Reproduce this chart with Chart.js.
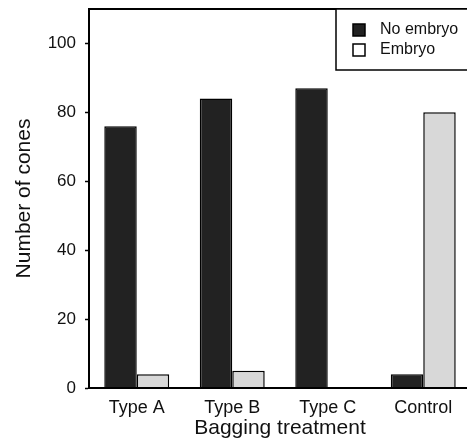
<!DOCTYPE html>
<html>
<head>
<meta charset="utf-8">
<script src="https://cdn.jsdelivr.net/npm/chart.js@4/dist/chart.umd.min.js"></script>
<style>
  html, body { margin: 0; padding: 0; background: #fff; overflow: hidden; }
  #caja { width: 480px; height: 448px; }
</style>
</head>
<body>
<div id="caja"><canvas id="grafico" width="480" height="448"></canvas></div>
<script>
const tratamientos = ["Type A", "Type B", "Type C", "Control"];
const sinEmbrion = [76, 84, 87, 4];
const conEmbrion = [4, 5, 0, 80];
const marcasY = [0, 20, 40, 60, 80, 100];
const etiquetasLeyenda = ["No embryo", "Embryo"];

const fuente = "'Liberation Sans', Arial, Helvetica, sans-serif";

// Marco del area de trazado (arriba y derecha)
const marco = {
    id: "marco",
    afterDatasetsDraw(chart) {
        const { ctx, chartArea: a } = chart;
        ctx.save();
        ctx.strokeStyle = "#000";
        ctx.lineWidth = 2;
        ctx.strokeRect(a.left, a.top, a.right - a.left, a.bottom - a.top);
        ctx.restore();
    },
};

// Leyenda con recuadro arriba a la derecha
const leyenda = {
    id: "leyenda",
    afterDraw(chart) {
        const { ctx, chartArea: a } = chart;
        const x0 = a.right - 135;
        ctx.save();
        ctx.fillStyle = "#fff";
        ctx.strokeStyle = "#000";
        ctx.lineWidth = 1.5;
        ctx.fillRect(x0, a.top, 140, 61);
        ctx.strokeRect(x0, a.top, 140, 61);

        const rellenos = ["#222", "#fff"];
        ctx.font = "16px " + fuente;
        ctx.textBaseline = "middle";
        etiquetasLeyenda.forEach((txt, i) => {
            const y = a.top + 21 + i * 20;
            ctx.fillStyle = rellenos[i];
            ctx.fillRect(x0 + 17, y - 6, 12, 12);
            ctx.strokeRect(x0 + 17, y - 6, 12, 12);
            ctx.fillStyle = "#111";
            ctx.fillText(txt, x0 + 44, y);
        });
        ctx.restore();
    },
};

new Chart(document.getElementById("grafico"), {
    type: "bar",
    data: {
        labels: tratamientos,
        datasets: [
            {
                label: etiquetasLeyenda[0],
                data: sinEmbrion,
                backgroundColor: "#222222",
                borderColor: "#000",
                borderWidth: 1.5,
            },
            {
                label: etiquetasLeyenda[1],
                data: conEmbrion,
                backgroundColor: "#d8d8d8",
                borderColor: "#000",
                borderWidth: 1.5,
            },
        ],
    },
    options: {
        responsive: false,
        animation: false,
        layout: { padding: { top: 9, right: 9, left: 0, bottom: 0 } },
        datasets: { bar: { barPercentage: 1, categoryPercentage: 0.68 } },
        plugins: { legend: { display: false }, tooltip: { enabled: false } },
        scales: {
            x: {
                grid: { display: false },
                border: { display: true, color: "#000", width: 2 },
                ticks: { color: "#111", font: { family: fuente, size: 18 }, padding: 1, maxRotation: 0 },
                title: {
                    display: true,
                    text: "Bagging treatment",
                    color: "#111",
                    font: { family: fuente, size: 21 },
                    padding: { top: 0, bottom: 7 },
                },
                afterFit(axis) { axis.height = 60; axis.paddingLeft = 0; axis.paddingRight = 0; },
            },
            y: {
                min: 0,
                max: 110,
                afterBuildTicks(axis) { axis.ticks = marcasY.map((v) => ({ value: v })); },
                grid: { drawOnChartArea: false, drawTicks: true, tickLength: 4, tickColor: "#000", tickWidth: 1.5 },
                border: { display: true, color: "#000", width: 2 },
                ticks: { color: "#111", font: { family: fuente, size: 17 }, padding: 9 },
                title: {
                    display: true,
                    text: "Number of cones",
                    color: "#111",
                    font: { family: fuente, size: 21 },
                    padding: { top: 12, bottom: 0 },
                },
                afterFit(axis) { axis.width = 89; axis.paddingTop = 0; axis.paddingBottom = 0; },
            },
        },
    },
    plugins: [marco, leyenda],
});
</script>
</body>
</html>
